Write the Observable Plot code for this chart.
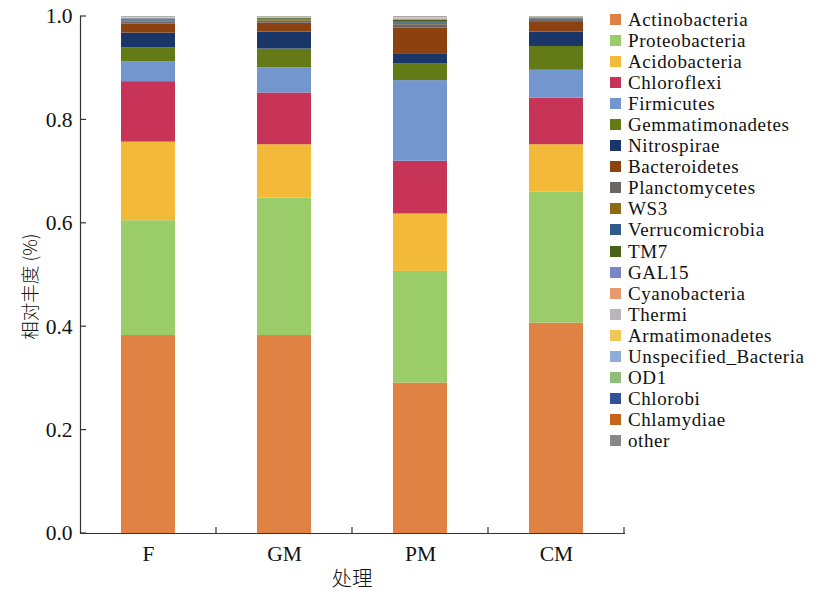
<!DOCTYPE html>
<html><head><meta charset="utf-8">
<script src="https://cdn.jsdelivr.net/npm/d3@7"></script>
<script src="https://cdn.jsdelivr.net/npm/@observablehq/plot@0.6"></script>
<style>
body{margin:0;background:#fff;}
#wrap{position:relative;width:814px;height:594px;overflow:hidden;}
#legend{position:absolute;left:610px;top:9px;font-family:"Liberation Serif",serif;font-size:19px;letter-spacing:0.6px;color:#111;line-height:21.05px;}
.item{display:flex;align-items:center;height:21.05px;white-space:nowrap;}
.sw{width:11px;height:11px;margin-right:7px;flex:none;}
</style></head><body><div id="wrap"><div id="legend"></div></div>
<script>
const groups = ["F","GM","PM","CM"];
const phyla = ["Actinobacteria","Proteobacteria","Acidobacteria","Chloroflexi","Firmicutes","Gemmatimonadetes","Nitrospirae","Bacteroidetes","Planctomycetes","WS3","Verrucomicrobia","TM7","GAL15","Cyanobacteria","Thermi","Armatimonadetes","Unspecified_Bacteria","OD1","Chlorobi","Chlamydiae","other"];
const colors = ["#E08243","#9ACC69","#F2BA38","#C83358","#7496CF","#637A16","#1A3668","#8B4210","#6B6566","#8C6B14","#2F5A8A","#4A6119","#7B86C8","#E69A70","#B8B6B8","#F0C85A","#8FADDB","#8FBC7A","#33519A","#C8651A","#888888"];
const valuesF  = [0.383,0.222,0.152,0.117,0.038,0.027,0.029,0.017,0.004,0.002,0.002,0.002,0.001,0.0005,0.001,0.0005,0.0005,0.0005,0.0003,0.0002,0.0005];
const valuesGM = [0.383,0.266,0.103,0.100,0.049,0.036,0.033,0.017,0.004,0.002,0.0015,0.0015,0.001,0.0005,0.0005,0.0005,0.0005,0.0003,0.0002,0.0002,0.0003];
const valuesPM = [0.291,0.216,0.111,0.102,0.156,0.032,0.020,0.050,0.006,0.003,0.003,0.003,0.001,0.001,0.002,0.0005,0.0005,0.0005,0.0003,0.0002,0.001];
const valuesCM = [0.407,0.253,0.092,0.090,0.054,0.046,0.028,0.020,0.004,0.001,0.001,0.001,0.0005,0.0005,0.0008,0.0002,0.0002,0.0002,0.0002,0.0002,0.0002];
const yTicks = [0,0.2,0.4,0.6,0.8,1.0];
const yTitle = "相对丰度 (%)";
const xTitle = "处理";

const values = {F: valuesF, GM: valuesGM, PM: valuesPM, CM: valuesCM};
const data = [];
groups.forEach(g => phyla.forEach((p, i) => data.push({group: g, phylum: p, value: values[g][i]})));

const plot = Plot.plot({
  width: 814, height: 594,
  marginLeft: 80, marginRight: 189, marginTop: 16, marginBottom: 61,
  style: {fontFamily: "'Liberation Serif', serif", fontSize: "21.5px", color: "#111", background: "white"},
  x: {domain: groups, paddingInner: 0.6, paddingOuter: 0.3, label: null},
  y: {domain: [0, 1], label: null},
  color: {domain: phyla, range: colors},
  marks: [
    Plot.barY(data, {x: "group", y: "value", fill: "phylum"}),
    Plot.axisY({ticks: yTicks, tickFormat: d => d.toFixed(1), tickSize: 0, tickPadding: 8, fontSize: 21.5}),
    Plot.axisX({tickSize: 0, tickPadding: 12, fontSize: 21.5}),
    Plot.ruleY([0], {stroke: "#333", strokeWidth: 1.2}),
    Plot.frame({anchor: "left", stroke: "#333", strokeWidth: 1.2})
  ]
});
document.getElementById("wrap").appendChild(plot);

// ticks drawn from the scales
const xs = plot.scale("x"), ys = plot.scale("y");
const svg = d3.select(plot);
const x0 = 80, y0 = ys.apply(0);
const g = svg.append("g").attr("stroke", "#333").attr("stroke-width", 1.2);
yTicks.forEach(t => g.append("line").attr("x1", x0).attr("x2", x0 + 6).attr("y1", ys.apply(t)).attr("y2", ys.apply(t)));
groups.forEach((grp, i) => {
  const c = xs.apply(grp) + xs.bandwidth / 2;
  const b = c + xs.step / 2;
  g.append("line").attr("x1", b).attr("x2", b).attr("y1", y0).attr("y2", y0 - 6);
});
svg.append("text")
  .attr("transform", `translate(32,${(ys.apply(0) + ys.apply(1)) / 2 + 12}) rotate(-90)`)
  .attr("text-anchor", "middle").attr("dominant-baseline", "middle")
  .attr("font-family", "'Noto Sans CJK SC', sans-serif").attr("font-weight", 300)
  .attr("font-size", 18.5).attr("fill", "#111").text(yTitle);
svg.append("text")
  .attr("x", (xs.apply(groups[0]) + xs.apply(groups[3]) + xs.bandwidth) / 2).attr("y", 580)
  .attr("text-anchor", "middle").attr("dominant-baseline", "middle")
  .attr("font-family", "'Noto Sans CJK SC', sans-serif").attr("font-weight", 300)
  .attr("font-size", 20.5).attr("fill", "#111").text(xTitle);

const legend = document.getElementById("legend");
phyla.forEach((p, i) => {
  const it = document.createElement("div"); it.className = "item";
  const sw = document.createElement("span"); sw.className = "sw"; sw.style.background = colors[i];
  const tx = document.createElement("span"); tx.textContent = p;
  it.appendChild(sw); it.appendChild(tx); legend.appendChild(it);
});
</script></body></html>
